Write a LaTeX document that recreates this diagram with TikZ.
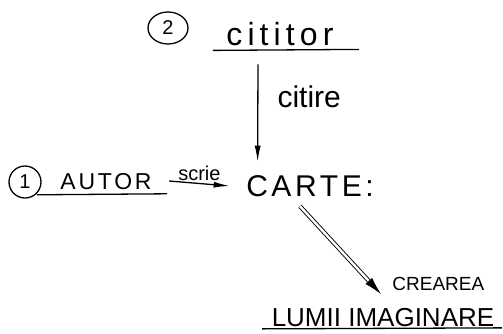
\documentclass[tikz,border=0pt]{standalone}
\usepackage{fontspec}
\setmainfont{Liberation Sans}
\usetikzlibrary{arrows.meta,positioning}

\begin{document}
\begin{tikzpicture}[x=1pt,y=-1pt,line width=1.3pt,
      num/.style={draw,circle,minimum size=32pt,inner sep=0pt,font=\fontsize{20}{20}\selectfont},
      txt/.style={inner sep=1pt,font=\fontsize{#1}{#1}\selectfont},
      wide/.style={font=\fontsize{#1}{#1}\selectfont\addfontfeature{LetterSpace=12}},
      arr/.style={-{Latex[length=16pt,width=6pt]}},
      dbl/.style={double,double distance=2.4pt,line width=0.9pt,-{Latex[length=18pt,width=9pt]}}]
      \useasboundingbox (0,0) rectangle (503,333);
      \node[num,xscale=1.25] (n2) at (168,28) {};
      \node[txt=20] at (n2) {2};
      \node[txt,font=\fontsize{32}{32}\selectfont\addfontfeature{LetterSpace=16}] (reader) at (280,34) {cititor};
      \node[num] (n1) at (25,182) {1};
      \node[txt,wide=23] (author) at (106,182) {AUTOR};
      \node[txt,wide=30] (book) at (310,186) {CARTE:};
      \node[txt=26] (world) at (383,318) {LUMII IMAGINARE};
      \draw ([xshift=-12pt,yshift=-3pt]reader.south west) -- ([xshift=24pt,yshift=-2pt]reader.south east);
      \draw ([xshift=-22pt,yshift=-3pt]author.south west) -- ([xshift=14pt,yshift=-2pt]author.south east);
      \draw ([xshift=-8pt,yshift=0pt]world.south west) -- ([xshift=6pt,yshift=1pt]world.south east);
      \draw[arr] ([xshift=-22pt,yshift=-17pt]reader.south) -- node[txt=30,pos=.33,right=18pt] {citire} ([xshift=13pt,yshift=12pt]book.north west);
      \draw[arr] ([xshift=16pt,yshift=1pt]author.east) -- node[txt=20,above=1pt] {scrie} ([xshift=-15pt]book.west);
      \draw[dbl] ([xshift=-10pt,yshift=-8pt]book.south) -- node[txt=19,pos=1,anchor=south west,xshift=10pt,yshift=2pt] {CREAREA} ([xshift=-2pt,yshift=13pt]world.north);
    \end{tikzpicture}
\end{document}
